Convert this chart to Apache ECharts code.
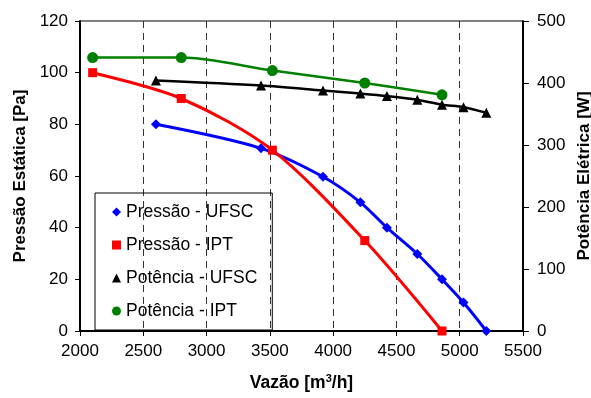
<!DOCTYPE html>
<html>
<head>
<meta charset="utf-8">
<script src="https://cdn.jsdelivr.net/npm/echarts@6/dist/echarts.min.js"></script>
<style>
	html, body { margin: 0; padding: 0; background: #fff; }
	#chart { width: 591px; height: 398px; }
</style>
</head>
<body>
<div id="chart"></div>
<script>
	// leituras do grafico original
	var vazaoUfsc = [2600, 3430, 3920, 4215, 4425, 4665, 4860, 5030, 5210];
	var pressaoUfsc = [80, 70.7, 59.7, 49.8, 40, 29.8, 20, 11, 0];
	var potenciaUfsc = [404, 396, 388, 383, 379, 373, 365, 361, 352];

	var vazaoIpt = [2100, 2800, 3520, 4250, 4860];
	var pressaoIpt = [100, 90, 70, 35, 0];
	var potenciaIpt = [441, 441, 420, 400, 381];

	var nomes = ['Pressão - UFSC', 'Pressão - IPT', 'Potência - UFSC', 'Potência - IPT'];

	function pares(xs, ys) {
		var out = [];
		for (var i = 0; i < xs.length; i++) out.push([xs[i], ys[i]]);
		return out;
	}

	var fonte = "'Liberation Sans', Arial, sans-serif";
	var myChart = echarts.init(document.getElementById('chart'));
	var option = {
		animation: false,
		backgroundColor: '#fff',
		textStyle: { fontFamily: fonte, color: '#000' },
		grid: {
			left: 80, right: 68, top: 21, bottom: 67,
			outerBoundsMode: 'none',
			show: true, borderColor: '#000', borderWidth: 1
		},
		legend: {
			orient: 'vertical',
			left: 95, top: 193,
			padding: [10, 15, 10, 17],
			itemGap: 15,
			itemWidth: 9, itemHeight: 9,
			borderColor: '#000', borderWidth: 1,
			textStyle: { fontSize: 17.5, color: '#000', fontFamily: fonte },
			data: [
				{ name: nomes[0], icon: 'diamond' },
				{ name: nomes[1], icon: 'rect' },
				{ name: nomes[2], icon: 'triangle' },
				{ name: nomes[3], icon: 'circle' }
			]
		},
		xAxis: {
			type: 'value',
			min: 2000, max: 5500, interval: 500,
			name: '{b|Vazão [m}{sup|3}{b|/h]}',
			nameLocation: 'middle',
			nameGap: 42,
			nameTextStyle: {
				rich: {
					b: { fontSize: 17.5, fontWeight: 'bold', fontFamily: fonte, color: '#000' },
					sup: { fontSize: 11, fontWeight: 'bold', fontFamily: fonte, color: '#000', padding: [0, 0, 9, 0] }
				}
			},
			axisLine: { lineStyle: { color: '#000', width: 2 } },
			axisTick: { show: true, length: 5, lineStyle: { color: '#000' } },
			axisLabel: {
				fontSize: 17, color: '#000', margin: 12,
				formatter: function (v) { return String(v); }
			},
			splitLine: { show: true, lineStyle: { color: '#333', type: [7, 5], width: 1 } }
		},
		yAxis: [
			{
				type: 'value',
				min: 0, max: 120, interval: 20,
				name: 'Pressão Estática [Pa]',
				nameLocation: 'middle',
				nameGap: 50,
				nameTextStyle: { fontSize: 17, fontWeight: 'bold', color: '#000' },
				axisLine: { show: true, lineStyle: { color: '#000', width: 2 } },
				axisTick: { show: true, length: 5, lineStyle: { color: '#000' } },
				axisLabel: { fontSize: 17, color: '#000', margin: 12 },
				splitLine: { show: false }
			},
			{
				type: 'value',
				min: 0, max: 500, interval: 100,
				name: 'Potência Elétrica [W]',
				nameLocation: 'middle',
				nameGap: 41,
				nameTextStyle: { fontSize: 17, fontWeight: 'bold', color: '#000' },
				axisLine: { show: true, lineStyle: { color: '#000', width: 2 } },
				axisTick: { show: true, length: 6, lineStyle: { color: '#000' } },
				axisLabel: { fontSize: 17, color: '#000', margin: 14 },
				splitLine: { show: false }
			}
		],
		series: [
			{
				name: nomes[0], type: 'line', yAxisIndex: 0,
				data: pares(vazaoUfsc, pressaoUfsc),
				smooth: 0.3,
				symbol: 'diamond', symbolSize: 10,
				itemStyle: { color: '#0000ff' },
				lineStyle: { color: '#0000ff', width: 3 }
			},
			{
				name: nomes[1], type: 'line', yAxisIndex: 0,
				data: pares(vazaoIpt, pressaoIpt),
				smooth: 0.3,
				symbol: 'rect', symbolSize: 9,
				itemStyle: { color: '#ff0000' },
				lineStyle: { color: '#ff0000', width: 3 }
			},
			{
				name: nomes[2], type: 'line', yAxisIndex: 1,
				data: pares(vazaoUfsc, potenciaUfsc),
				smooth: 0.3,
				symbol: 'triangle', symbolSize: 10,
				itemStyle: { color: '#000' },
				lineStyle: { color: '#000', width: 2.5 }
			},
			{
				name: nomes[3], type: 'line', yAxisIndex: 1,
				data: pares(vazaoIpt, potenciaIpt),
				smooth: 0.3,
				symbol: 'circle', symbolSize: 11,
				itemStyle: { color: '#008000' },
				lineStyle: { color: '#008000', width: 2.5 }
			}
		]
	};
	myChart.setOption(option);
</script>
</body>
</html>
